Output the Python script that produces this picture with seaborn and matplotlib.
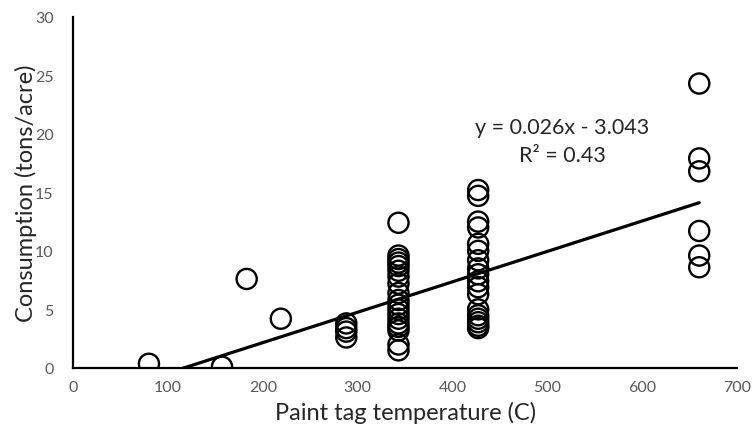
import seaborn as sns
import matplotlib.pyplot as plt
import numpy as np
import pandas as pd

# paint tag temperature (C) and fuel consumption (tons/acre)
temp_low = [80, 157, 183, 219]
cons_low = [0.35, 0.1, 7.6, 4.2]

temp_288 = [288, 288, 288, 288]
cons_288 = [2.6, 3.1, 3.4, 3.8]

temp_343 = [343] * 19
cons_343 = [12.4, 9.6, 9.3, 9.0, 8.7, 8.3, 7.8, 7.2, 6.4, 5.8, 5.4, 5.0, 4.6,
            4.2, 3.8, 3.5, 3.2, 2.0, 1.5]

temp_427 = [427] * 18
cons_427 = [15.2, 14.7, 12.5, 12.0, 10.6, 10.0, 9.2, 8.5, 8.0, 7.4, 6.9, 6.3,
            5.0, 4.5, 4.2, 3.9, 3.6, 3.4]

temp_660 = [660] * 6
cons_660 = [24.3, 17.9, 16.8, 11.7, 9.6, 8.6]

# Excel linear trendline
slope = 0.026
intercept = -3.043
r_squared = 0.43

df = pd.DataFrame({
    'temp': temp_low + temp_288 + temp_343 + temp_427 + temp_660,
    'cons': cons_low + cons_288 + cons_343 + cons_427 + cons_660,
})

sns.set_style('white')
plt.rcParams['font.family'] = ['Lato', 'DejaVu Sans']

fig = plt.figure(figsize=(7.53, 4.35), dpi=100)
ax = fig.add_axes([0.097, 0.152, 0.882, 0.807])

sns.scatterplot(data=df, x='temp', y='cons', ax=ax, marker='o', s=210,
                facecolor='none', edgecolor='black', linewidth=1.7, zorder=3)

x_fit = np.array([df['temp'].min(), df['temp'].max()])
line = pd.DataFrame({'temp': x_fit, 'cons': slope * x_fit + intercept})
sns.lineplot(data=line, x='temp', y='cons', ax=ax, color='black', linewidth=2.3, zorder=4)

ax.set_xlim(0, 700)
ax.set_ylim(0, 30)
ax.set_xticks(range(0, 701, 100))
ax.set_yticks(range(0, 31, 5))
ax.tick_params(axis='both', length=0, labelsize=11.5, labelcolor='#595959')
ax.tick_params(axis='x', pad=9)
ax.tick_params(axis='y', pad=14)

for side in ['top', 'right']:
    ax.spines[side].set_visible(False)
for side in ['left', 'bottom']:
    ax.spines[side].set_color('black')
    ax.spines[side].set_linewidth(1.6)

ax.set_xlabel('Paint tag temperature (C)', fontsize=17, color='#262626', labelpad=5)
ax.set_ylabel('Consumption (tons/acre)', fontsize=17, color='#262626')
ax.yaxis.set_label_coords(-0.055, 0.5)

ax.text(516, 20.6, f'y = {slope:.3f}x - {abs(intercept):.3f}', ha='center', va='center',
        fontsize=15.5, color='#262626')
ax.text(516, 18.2, f'R² = {r_squared:.2f}', ha='center', va='center',
        fontsize=15.5, color='#262626')

fig.savefig('out.png', dpi=100)
